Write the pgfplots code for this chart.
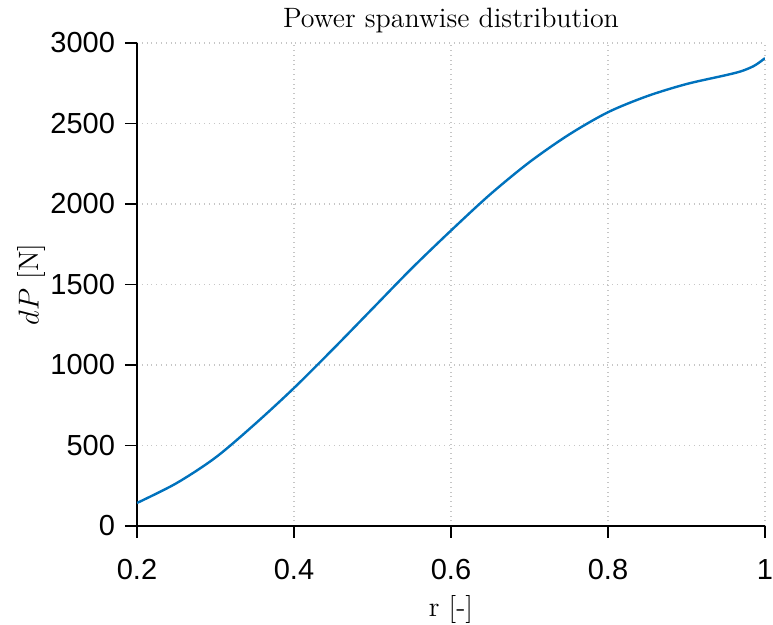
\documentclass[border=0pt]{standalone}
\usepackage{fontspec}
\usepackage{pgfplots}
\pgfplotsset{compat=1.18}
\newfontfamily\arial{Liberation Sans}
\definecolor{mblue}{RGB}{0,114,189}
\begin{document}
\begin{tikzpicture}
\begin{axis}[
  scale only axis,
  width=314pt, height=241.5pt,
  xmin=0.2, xmax=1, ymin=0, ymax=3000,
  xtick={0.2,0.4,0.6,0.8,1}, ytick={0,500,1000,1500,2000,2500,3000},
  axis x line*=bottom, axis y line*=left,
  axis line style={line width=0.8pt, black, -},
  tick align=outside, major tick length=6pt,
  tick style={line width=0.8pt, black},
  /pgf/number format/assume math mode=true,
  /pgf/number format/1000 sep={},
  ticklabel style={font=\arial\fontsize{14.5}{14.5}\selectfont},
  xticklabel style={yshift=-7pt},
  yticklabel style={xshift=-1.5pt},
  grid=major,
  major grid style={gray!45, dotted, line width=0.6pt},
  title={Power spanwise distribution},
  title style={font=\fontsize{14}{14}\selectfont, yshift=-4.5pt},
  xlabel={r [-]},
  ylabel={$dP$ [N]},
  label style={font=\fontsize{14}{14}\selectfont},
  xlabel style={yshift=-1pt},
  ylabel style={yshift=-4.5pt},
]
\addplot[mblue, line width=1.2pt, smooth] coordinates {
(0.2,143) (0.25,265) (0.3,425) (0.35,632) (0.4,857) (0.45,1100) (0.5,1350)
(0.55,1600) (0.6,1835) (0.65,2060) (0.7,2260) (0.75,2430) (0.8,2570)
(0.85,2670) (0.9,2745) (0.95,2800) (0.97,2825) (0.985,2855) (0.993,2880) (1.0,2906)
};
\coordinate (o) at (rel axis cs:0,0);
\end{axis}
\pgfresetboundingbox
\path (o) ++(-68.5pt,-49.5pt) rectangle ++(386.5pt,312.5pt);
\end{tikzpicture}
\end{document}
